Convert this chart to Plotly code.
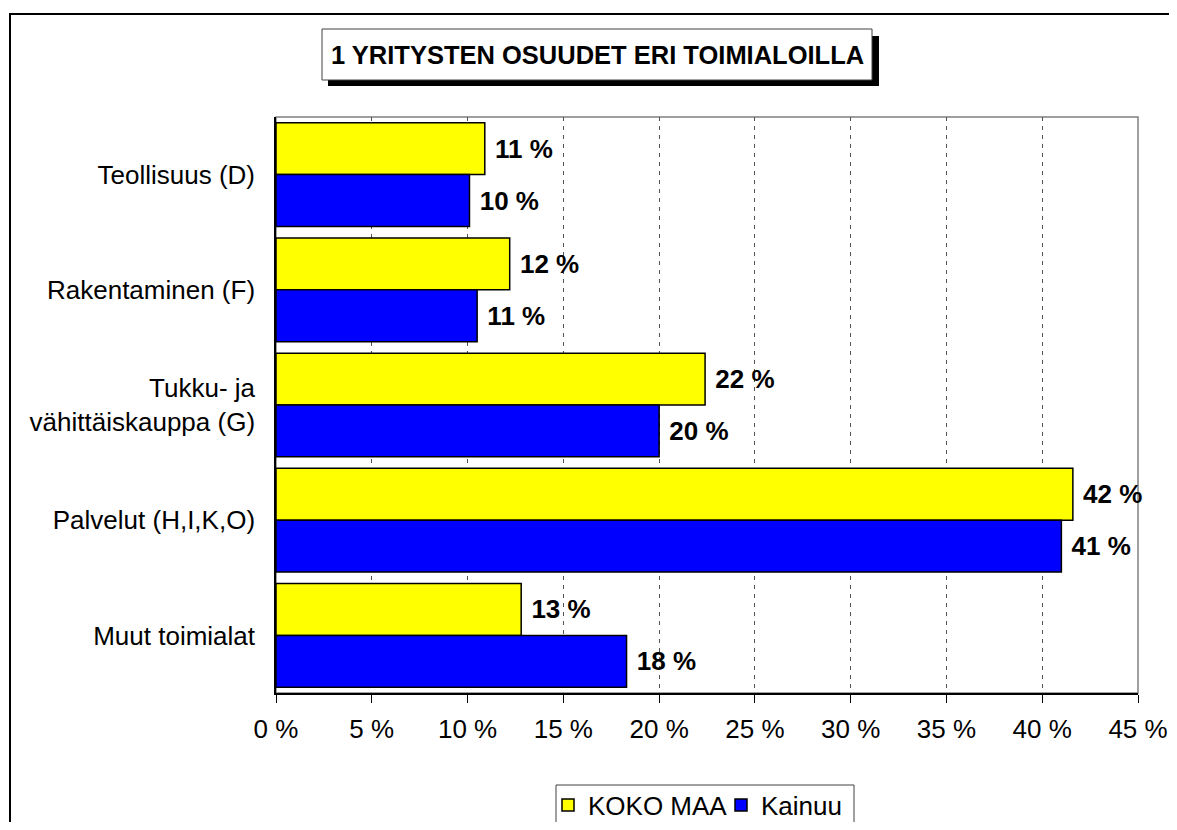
import plotly.graph_objects as go

categories = ["Teollisuus (D)", "Rakentaminen (F)", "Tukku- ja<br>vähittäiskauppa (G)",
              "Palvelut (H,I,K,O)", "Muut toimialat"]
koko_maa = [10.9, 12.2, 22.4, 41.6, 12.8]
kainuu = [10.1, 10.5, 20.0, 41.0, 18.3]
series_names = ["KOKO MAA", "Kainuu"]
tick_vals = [0, 5, 10, 15, 20, 25, 30, 35, 40, 45]
tick_text = [f"{v} %" for v in tick_vals]
title_text = "1 YRITYSTEN OSUUDET ERI TOIMIALOILLA"

# page offset from default <body> margin
OFF = 8
W, H = 1177 - OFF, 830 - 2 * OFF
# plot area in page pixels
L, R, T, B = 276, 1138, 117, 693


def px(x):
    return (x - L) / (R - L)


def py(y):
    return (B - y) / (B - T)


FONT = "Liberation Sans, Arial, sans-serif"
FS = 26

fig = go.Figure()
for name, vals, color in [(series_names[0], koko_maa, "#FFFF00"), (series_names[1], kainuu, "#0000FF")]:
    fig.add_trace(go.Bar(
        y=categories, x=vals, name=name, orientation="h",
        marker=dict(color=color, line=dict(color="black", width=1.5)),
        texttemplate=" %{x:.0f} %", textposition="outside",
        textfont=dict(family=FONT, size=FS, color="black", weight="bold"),
        cliponaxis=False,
    ))

shapes = [
    # outer chart frame
    dict(type="rect", xref="paper", yref="paper", x0=px(10), x1=px(1250), y0=py(900), y1=py(14),
         line=dict(color="black", width=2), fillcolor="rgba(0,0,0,0)", layer="below"),
    # plot-area border (gray)
    dict(type="rect", xref="paper", yref="paper", x0=0, x1=1, y0=0, y1=1,
         line=dict(color="#808080", width=1.5), fillcolor="rgba(0,0,0,0)", layer="below"),
    # title shadow
    dict(type="rect", xref="paper", yref="paper", x0=px(328), x1=px(879), y0=py(86), y1=py(36),
         line=dict(color="black", width=0), fillcolor="black", layer="above"),
    # title box
    dict(type="rect", xref="paper", yref="paper", x0=px(322), x1=px(872), y0=py(80), y1=py(29),
         line=dict(color="#404040", width=1), fillcolor="white", layer="above"),
    # legend box
    dict(type="rect", xref="paper", yref="paper", x0=px(556), x1=px(854), y0=py(900), y1=py(785),
         line=dict(color="#404040", width=1), fillcolor="white", layer="below"),
]

fig.update_layout(
    width=W, height=H, autosize=False,
    margin=dict(l=L - OFF, r=W - (R - OFF), t=T - OFF, b=H - (B - OFF), autoexpand=False),
    paper_bgcolor="white", plot_bgcolor="white",
    barmode="group", bargap=0.1, bargroupgap=0,
    font=dict(family=FONT, color="black"),
    shapes=shapes,
    showlegend=True,
    legend=dict(orientation="h", x=px(548), xanchor="left", y=py(805), yanchor="middle",
                font=dict(family=FONT, size=FS, color="black"),
                bgcolor="rgba(0,0,0,0)", borderwidth=0, traceorder="normal",
                entrywidth=128, entrywidthmode="pixels"),
    annotations=[dict(text=f"<b>{title_text}</b>", xref="paper", yref="paper",
                      x=px(597), y=py(55), xanchor="center", yanchor="middle", showarrow=False,
                      font=dict(family=FONT, size=25.5, color="black"))],
)

fig.update_xaxes(range=[0, 45], tickvals=tick_vals, ticktext=tick_text,
                 showgrid=True, gridcolor="#555555", griddash="4px,5px", gridwidth=1,
                 showline=True, linecolor="black", linewidth=1.5,
                 ticks="outside", ticklen=8, tickcolor="black", ticklabelstandoff=4,
                 tickfont=dict(family=FONT, size=FS, color="black"), zeroline=False)
fig.update_yaxes(categoryorder="array", categoryarray=categories, autorange="reversed",
                 showline=True, linecolor="black", linewidth=1.5, showgrid=False,
                 ticks="", ticklabelstandoff=14,
                 tickfont=dict(family=FONT, size=FS, color="black"))

fig.write_html("out.html")
